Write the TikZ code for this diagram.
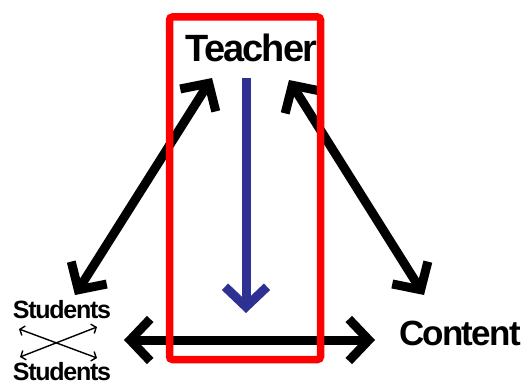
\documentclass[tikz,border=0pt]{standalone}
\usepackage{fontspec}
\setmainfont{Liberation Sans}[LetterSpace=-5]
\usetikzlibrary{arrows.meta}
\definecolor{framered}{RGB}{255,0,0}
\definecolor{flowblue}{RGB}{46,49,146}

\begin{document}
\begin{tikzpicture}[
      x=1pt,y=-1pt,
      label/.style={
        inner sep=0pt,
        anchor=base,
        font=\bfseries
      },
      arrow/.style={{Straight Barb[sharp,length=20pt,width=42pt]}-{Straight Barb[sharp,length=20pt,width=42pt]},line width=9pt},
      down/.style={-{Straight Barb[sharp,length=20pt,width=42pt]},line width=9pt,draw=flowblue},
      thin/.style={{Straight Barb[sharp,length=4pt,width=10pt]}-{Straight Barb[sharp,length=4pt,width=10pt]},line width=1.4pt},
      frame/.style={draw=framered,line width=7.5pt,rounded corners=3pt}
    ]
      \useasboundingbox (0,0) rectangle (529,385);
      \node[label,font=\bfseries\fontsize{38}{40}\selectfont] (teacher) at (251.5,62) {Teacher};
      \node[label,font=\bfseries\fontsize{35}{38}\selectfont] (content) at (460,345) {Content};
      \node[label,font=\bfseries\fontsize{25}{27}\selectfont] (students1) at (62,318) {Students};
      \node[label,font=\bfseries\fontsize{25}{27}\selectfont] (students2) at (62,380) {Students};
      % arrow ends
      \coordinate (tl) at (212,78);
      \coordinate (tr) at (289,80);
      \coordinate (sl) at (75,295);
      \coordinate (cr) at (424,295);
      \coordinate (hl) at (124,340);
      \coordinate (hr) at (375,340);
      \coordinate (vt) at (246,78);
      \coordinate (vb) at (246,313);
      \draw[arrow] (tl) -- (sl);
      \draw[arrow] (tr) -- (cr);
      \draw[arrow] (hl) -- (hr);
      \draw[down] (vt) -- (vb);
      % students cross
      \coordinate (a1) at (19,329);
      \coordinate (a2) at (97,358);
      \coordinate (b1) at (20,357);
      \coordinate (b2) at (97,327);
      \draw[thin] (a1) -- (a2);
      \draw[thin] (b1) -- (b2);
      \draw[frame] (169.5,17) rectangle (320.5,359.5);
    \end{tikzpicture}
\end{document}
